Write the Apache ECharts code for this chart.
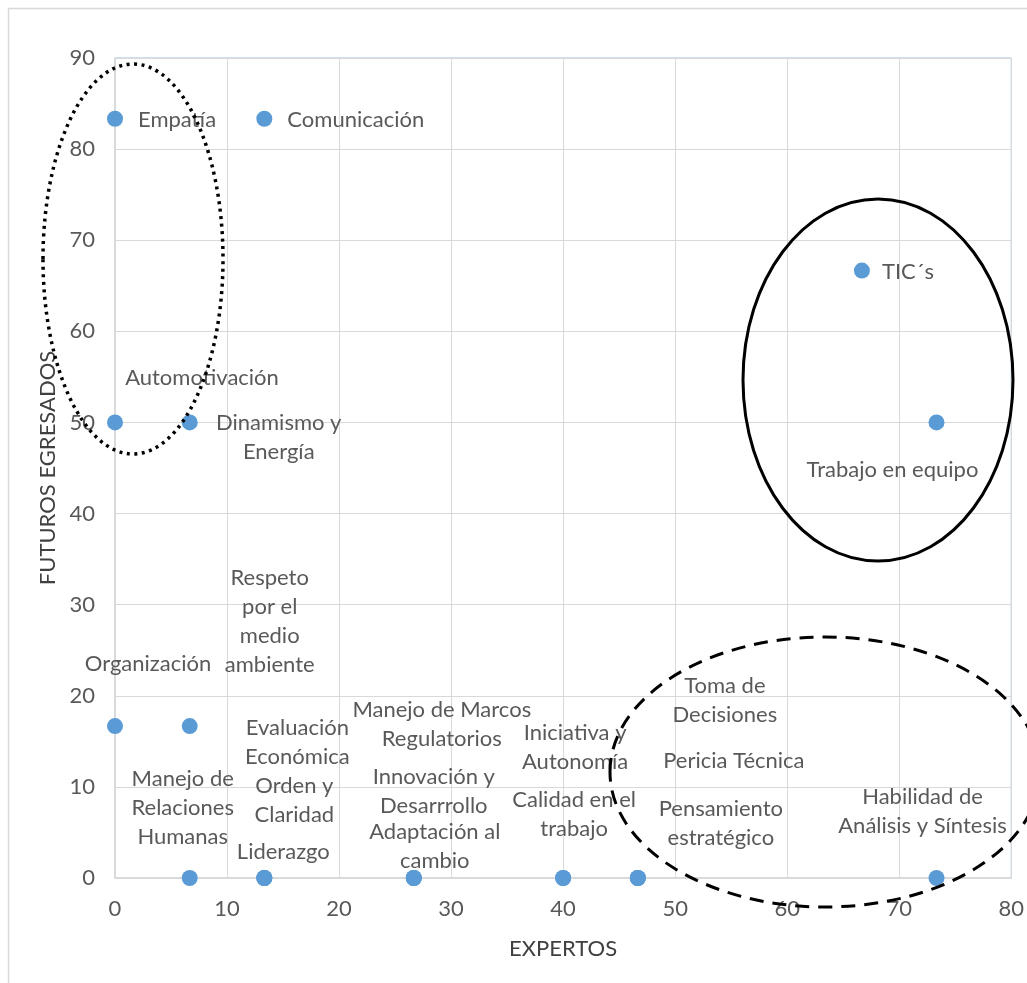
<!DOCTYPE html>
<html>
<head>
<meta charset="utf-8">
<script src="https://cdn.jsdelivr.net/npm/echarts@6/dist/echarts.min.js"></script>
<style>html,body{margin:0;padding:0;background:#fff}#c{width:1027px;height:983px}</style>
</head>
<body>
<div id="c"></div>
<script>
// ---- data ----
var competencias = [
  'Empatía', 'Comunicación', 'TIC´s', 'Trabajo en equipo',
  'Automotivación', 'Dinamismo y\nEnergía', 'Organización',
  'Respeto\npor el\nmedio\nambiente', 'Manejo de\nRelaciones\nHumanas',
  'Evaluación\nEconómica', 'Orden y\nClaridad', 'Liderazgo',
  'Manejo de Marcos\nRegulatorios', 'Innovación y\nDesarrrollo', 'Adaptación al\ncambio',
  'Iniciativa y\nAutonomía', 'Calidad en el\ntrabajo',
  'Toma de\nDecisiones', 'Pericia Técnica', 'Pensamiento\nestratégico',
  'Habilidad de\nAnálisis y Síntesis'
];
var expertos = [0, 13.33, 66.67, 73.33, 0, 6.67, 0, 6.67, 6.67, 13.33, 13.33, 13.33,
  26.67, 26.67, 26.67, 40, 40, 46.67, 46.67, 46.67, 73.33];
var egresados = [83.33, 83.33, 66.67, 50, 50, 50, 16.67, 16.67, 0, 0, 0, 0,
  0, 0, 0, 0, 0, 0, 0, 0, 0];
var xTicks = [0, 10, 20, 30, 40, 50, 60, 70, 80];
var yTicks = [0, 10, 20, 30, 40, 50, 60, 70, 80, 90];

// ---- label layout (pixel offsets from the point, style only) ----
var labelLayout = [
  {a:'left', o:[23,1]}, {a:'left', o:[23,1]}, {a:'left', o:[20,1]}, {a:'center', o:[-44,47]},
  {a:'center', o:[87,-45]}, {a:'center', o:[89,15]}, {a:'center', o:[33,-62]},
  {a:'center', o:[80,-105]}, {a:'center', o:[-7,-70]},
  {a:'center', o:[33,-136]}, {a:'center', o:[30,-78]}, {a:'center', o:[19,-26]},
  {a:'center', o:[28,-154]}, {a:'center', o:[20,-87]}, {a:'center', o:[21,-32]},
  {a:'center', o:[12,-131]}, {a:'center', o:[11,-64]},
  {a:'center', o:[87,-178]}, {a:'center', o:[96,-117]}, {a:'center', o:[83,-55]},
  {a:'center', o:[-14,-67]}
];

var FONT = 'Lato';
var points = competencias.map(function (name, i) {
  return {
    name: name,
    value: [expertos[i], egresados[i]],
    label: {
      show: true,
      formatter: name,
      position: 'inside',
      align: labelLayout[i].a,
      verticalAlign: 'middle',
      offset: labelLayout[i].o
    }
  };
});

var chart = echarts.init(document.getElementById('c'));
chart.setOption({
  backgroundColor: '#fff',
  animation: false,
  grid: {left: 115, top: 58, width: 898, height: 820, show: true,
    borderColor: '#9DC3E6', borderWidth: 1, backgroundColor: 'transparent'},
  xAxis: {
    type: 'value', min: 0, max: 80, interval: 10,
    name: 'EXPERTOS', nameLocation: 'middle', nameGap: 60,
    nameTextStyle: {color: '#404040', fontSize: 22, fontFamily: FONT},
    axisLine: {show: true, lineStyle: {color: '#D9D9D9', width: 1.5}},
    axisTick: {show: false},
    axisLabel: {color: '#595959', fontSize: 22, fontFamily: FONT, margin: 20,
      formatter: function (v) { return xTicks.indexOf(v) >= 0 ? String(v) : ''; }},
    splitLine: {show: true, lineStyle: {color: '#D9D9D9', width: 1}}
  },
  yAxis: {
    type: 'value', min: 0, max: 90, interval: 10,
    name: 'FUTUROS EGRESADOS', nameLocation: 'middle', nameGap: 56, nameRotate: 90,
    nameTextStyle: {color: '#404040', fontSize: 22, fontFamily: FONT},
    axisLine: {show: true, lineStyle: {color: '#D9D9D9', width: 1.5}},
    axisTick: {show: false},
    axisLabel: {color: '#595959', fontSize: 22, fontFamily: FONT, margin: 20,
      formatter: function (v) { return yTicks.indexOf(v) >= 0 ? String(v) : ''; }},
    splitLine: {show: true, lineStyle: {color: '#D9D9D9', width: 1}}
  },
  series: [{
    type: 'scatter',
    symbol: 'circle',
    symbolSize: 16,
    itemStyle: {color: '#5B9BD5', opacity: 1},
    label: {color: '#595959', fontSize: 22, fontFamily: FONT, lineHeight: 29},
    emphasis: {disabled: true},
    data: points,
    z: 3
  }],
  graphic: [
    {type: 'rect', z: -1, silent: true, shape: {x: 8.5, y: 8.5, width: 1200, height: 1200},
      style: {fill: 'none', stroke: '#D9D9D9', lineWidth: 1.5}},
    {type: 'ellipse', z: 100, silent: true, shape: {cx: 133, cy: 259, rx: 90, ry: 195},
      style: {fill: 'none', stroke: '#000', lineWidth: 3.5, lineDash: [3, 4.5], lineCap: 'butt'}},
    {type: 'ellipse', z: 100, silent: true, shape: {cx: 878, cy: 380, rx: 135, ry: 181},
      style: {fill: 'none', stroke: '#000', lineWidth: 3}},
    {type: 'ellipse', z: 100, silent: true, shape: {cx: 825, cy: 772, rx: 215, ry: 135},
      style: {fill: 'none', stroke: '#000', lineWidth: 3, lineDash: [14, 9]}}
  ]
});
</script>
</body>
</html>
